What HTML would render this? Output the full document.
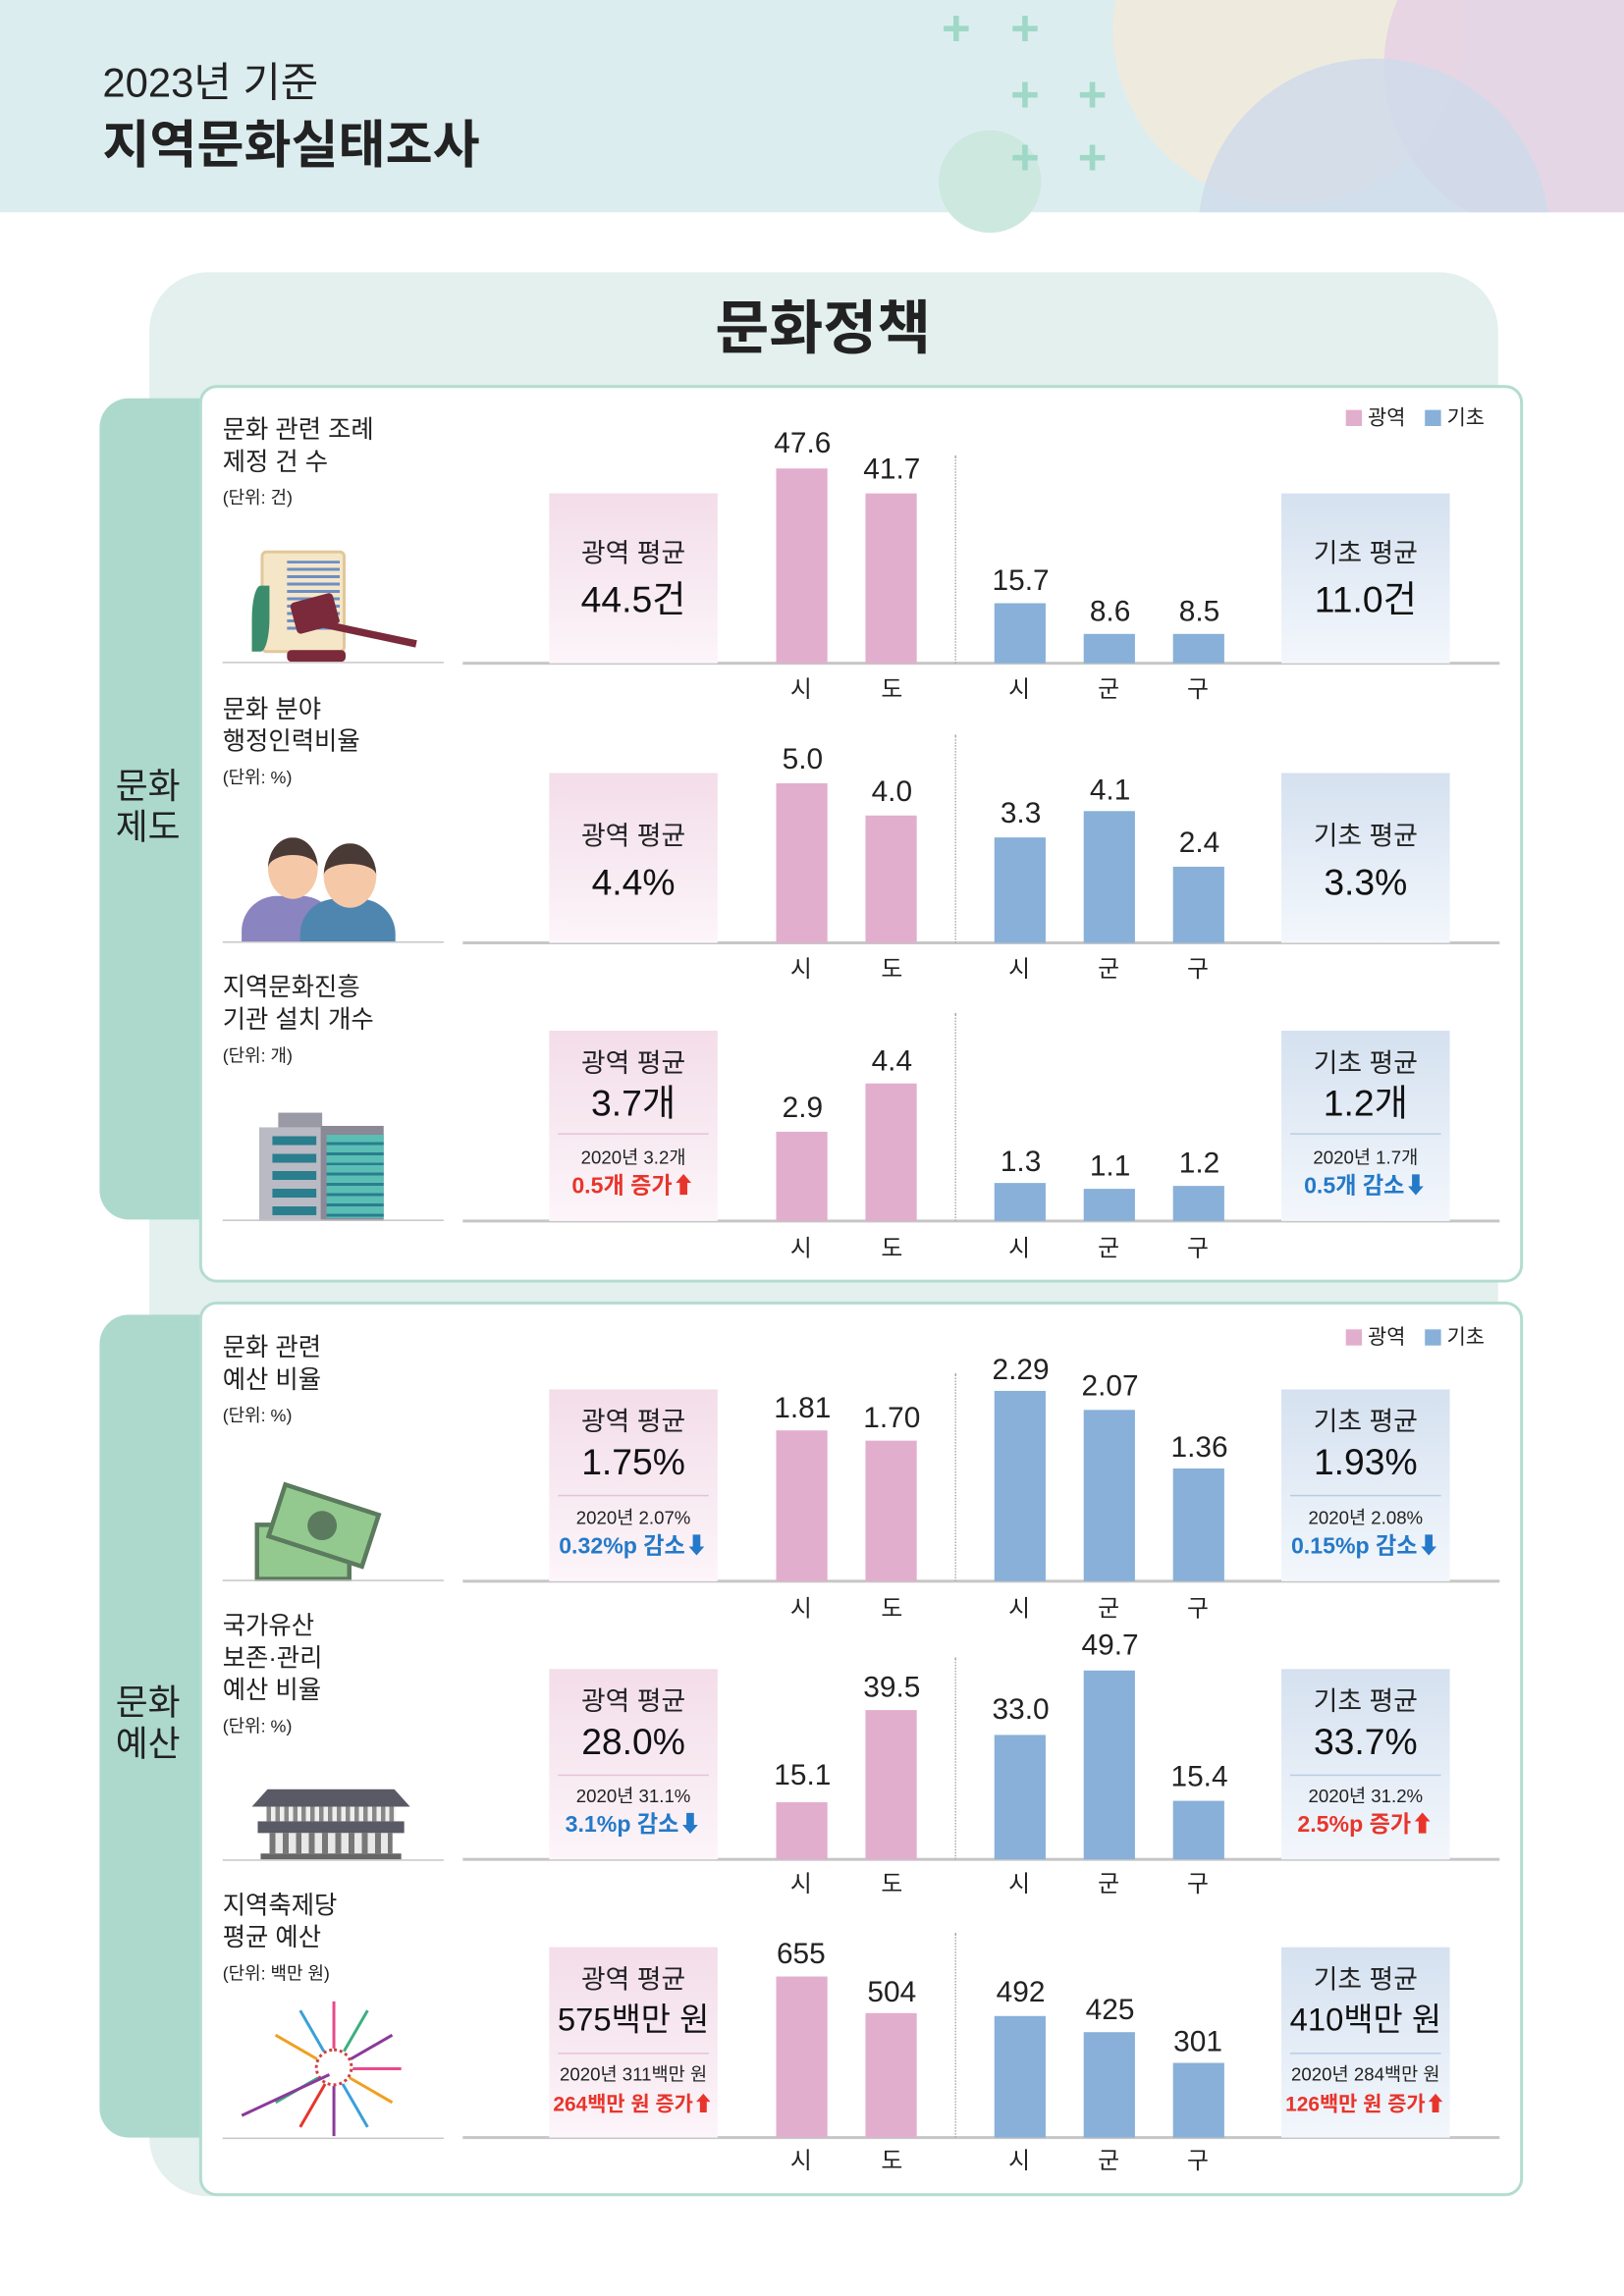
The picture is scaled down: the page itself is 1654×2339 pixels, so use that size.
<!DOCTYPE html>
<html><head><meta charset="utf-8">
<style>
*{margin:0;padding:0;box-sizing:border-box}
html,body{width:1654px;height:2339px;overflow:hidden;background:#fff}
#w{position:absolute;left:0;top:0;width:1109px;height:1568px;transform:scale(1.4915);transform-origin:0 0;font-family:"Liberation Sans","Noto Sans CJK KR",sans-serif;color:#222}
#w div{position:absolute}
.c{text-align:center;white-space:nowrap}
.pb{background:#e2aecd;width:35px}
.bb{background:#88b0d8;width:35px}
.v{width:80px;font-size:20px;line-height:22px;text-align:center}
.cat{width:40px;font-size:16px;line-height:18px;text-align:center}
.base{left:316px;width:708px;height:2px;background:#c6c6c6}
.lb{left:152px;width:151px;height:1px;background:#c6c6c6}
.dot{left:652px;width:0;border-left:1px dotted #aaa}
.pbox{left:375px;width:115px;background:linear-gradient(#f3dde9,#fcf5f9)}
.bbox{left:875px;width:115px;background:linear-gradient(#d5e1f0,#f3f7fc)}
.bt{left:0;width:115px;text-align:center;font-size:18px;line-height:20px;white-space:nowrap}
.bv{left:0;width:115px;text-align:center;font-size:25px;line-height:28px;color:#111;white-space:nowrap}
.bl{left:6px;width:103px;height:1px}
.bs{left:0;width:115px;text-align:center;font-size:12.5px;line-height:14px;white-space:nowrap}
.bc{left:0;width:115px;text-align:center;font-size:15.5px;line-height:18px;font-weight:bold;white-space:nowrap}
.red{color:#e8352b}.blu{color:#2479c9}
.lab{left:152px;font-size:17px;line-height:22px}
.unit{left:152px;font-size:12px;line-height:14px}
.plus{color:#9fd8c6;font-size:34px;font-weight:bold;line-height:30px}
.ray{left:228px;top:1412px;width:46px;height:2px;transform-origin:0 50%}
</style></head><body><div id="w">
<!-- header -->
<div style="left:0;top:0;width:1109px;height:145px;background:#dcedf0;overflow:hidden">
 <div style="left:760px;top:-100px;width:240px;height:240px;border-radius:50%;background:#efeadb;opacity:.9"></div>
 <div style="left:945px;top:-70px;width:230px;height:230px;border-radius:50%;background:#e6d3e4;opacity:.9"></div>
 <div style="left:818px;top:40px;width:240px;height:240px;border-radius:50%;background:#cfdbea;opacity:.85"></div>
</div>
<div style="left:641px;top:89px;width:70px;height:70px;border-radius:50%;background:#cde8df"></div>
<div class="plus" style="left:643px;top:5px">+</div><div class="plus" style="left:690px;top:5px">+</div>
<div class="plus" style="left:690px;top:50px">+</div><div class="plus" style="left:736px;top:50px">+</div>
<div class="plus" style="left:690px;top:93px">+</div><div class="plus" style="left:736px;top:93px">+</div>
<div style="left:70px;top:40px;font-size:28px;line-height:34px">2023년 기준</div>
<div style="left:70px;top:80px;font-size:35px;line-height:40px;font-weight:bold">지역문화실태조사</div>

<!-- big panel -->
<div style="left:102px;top:186px;width:921px;height:1314px;border-radius:40px;background:#e3f0ed"></div>
<div class="c" style="left:362px;top:202px;width:400px;font-size:40px;line-height:46px;font-weight:bold">문화정책</div>

<div style="left:68px;top:272px;width:90px;height:561px;border-radius:20px;background:#acd9cc"></div>
<div class="c" style="left:68px;top:524px;width:66px;font-size:24px;line-height:28px">문화<br>제도</div>
<div style="left:68px;top:898px;width:90px;height:562px;border-radius:20px;background:#acd9cc"></div>
<div class="c" style="left:68px;top:1150px;width:66px;font-size:24px;line-height:28px">문화<br>예산</div>

<div style="left:136px;top:263px;width:904px;height:613px;border:2px solid #b3dccf;border-radius:12px;background:#fff"></div>
<div style="left:136px;top:889px;width:904px;height:611px;border:2px solid #b3dccf;border-radius:12px;background:#fff"></div>

<!-- legends -->
<div style="left:919px;top:280px;width:11px;height:11px;background:#e2aecd"></div><div style="left:934px;top:277px;font-size:14px;line-height:17px">광역</div>
<div style="left:973px;top:280px;width:11px;height:11px;background:#88b0d8"></div><div style="left:988px;top:277px;font-size:14px;line-height:17px">기초</div>
<div style="left:919px;top:908px;width:11px;height:11px;background:#e2aecd"></div><div style="left:934px;top:905px;font-size:14px;line-height:17px">광역</div>
<div style="left:973px;top:908px;width:11px;height:11px;background:#88b0d8"></div><div style="left:988px;top:905px;font-size:14px;line-height:17px">기초</div>

<!-- ROW 1 B=453 -->
<div class="lab" style="top:283px">문화 관련 조례<br>제정 건 수</div>
<div class="unit" style="top:333px">(단위: 건)</div>
<div style="left:178px;top:376px;width:58px;height:70px;background:#f6e6c8;border:2px solid #e2c79a;border-radius:4px"></div>
<div style="left:196px;top:383px;width:36px;height:48px;background:repeating-linear-gradient(#6b8fc6 0 2px,transparent 2px 5px)"></div>
<div style="left:172px;top:400px;width:12px;height:45px;background:#3a8c6c;border-radius:50% 0"></div>
<div style="left:200px;top:408px;width:30px;height:22px;background:#7a2a3a;border-radius:3px;transform:rotate(-15deg)"></div>
<div style="left:215px;top:430px;width:70px;height:5px;background:#7a2a3a;transform:rotate(12deg)"></div>
<div style="left:196px;top:444px;width:40px;height:8px;background:#7a2a3a;border-radius:3px"></div>
<div class="lb" style="top:452px"></div>
<div class="base" style="top:452px"></div>
<div class="dot" style="top:311px;height:142px"></div>
<div class="pbox" style="top:337px;height:116px"><div class="bt" style="top:31px">광역 평균</div><div class="bv" style="top:59px">44.5건</div></div>
<div class="bbox" style="top:337px;height:116px"><div class="bt" style="top:31px">기초 평균</div><div class="bv" style="top:59px">11.0건</div></div>
<div class="pb" style="left:530px;top:320px;height:133px"></div><div class="v" style="left:508px;top:292px">47.6</div>
<div class="pb" style="left:591px;top:337px;height:116px"></div><div class="v" style="left:569px;top:310px">41.7</div>
<div class="bb" style="left:679px;top:412px;height:41px"></div><div class="v" style="left:657px;top:386px">15.7</div>
<div class="bb" style="left:740px;top:433px;height:20px"></div><div class="v" style="left:718px;top:407px">8.6</div>
<div class="bb" style="left:801px;top:433px;height:20px"></div><div class="v" style="left:779px;top:407px">8.5</div>
<div class="cat" style="left:527px;top:463px">시</div><div class="cat" style="left:589px;top:463px">도</div><div class="cat" style="left:676px;top:463px">시</div><div class="cat" style="left:737px;top:463px">군</div><div class="cat" style="left:798px;top:463px">구</div>

<!-- ROW 2 B=644 -->
<div class="lab" style="top:474px">문화 분야<br>행정인력비율</div>
<div class="unit" style="top:524px">(단위: %)</div>
<div style="left:165px;top:612px;width:65px;height:32px;background:#8a84c0;border-radius:24px 24px 0 0"></div>
<div style="left:205px;top:614px;width:65px;height:30px;background:#4f86b0;border-radius:24px 24px 0 0"></div>
<div style="left:183px;top:572px;width:34px;height:42px;background:#f5c9a8;border-radius:50%;border-top:12px solid #4a3a36"></div>
<div style="left:221px;top:576px;width:36px;height:44px;background:#f5c9a8;border-radius:50%;border-top:14px solid #4a3a36"></div>
<div class="lb" style="top:643px"></div>
<div class="base" style="top:643px"></div>
<div class="dot" style="top:502px;height:142px"></div>
<div class="pbox" style="top:528px;height:116px"><div class="bt" style="top:33px">광역 평균</div><div class="bv" style="top:61px">4.4%</div></div>
<div class="bbox" style="top:528px;height:116px"><div class="bt" style="top:33px">기초 평균</div><div class="bv" style="top:61px">3.3%</div></div>
<div class="pb" style="left:530px;top:535px;height:109px"></div><div class="v" style="left:508px;top:508px">5.0</div>
<div class="pb" style="left:591px;top:557px;height:87px"></div><div class="v" style="left:569px;top:530px">4.0</div>
<div class="bb" style="left:679px;top:572px;height:72px"></div><div class="v" style="left:657px;top:545px">3.3</div>
<div class="bb" style="left:740px;top:554px;height:90px"></div><div class="v" style="left:718px;top:529px">4.1</div>
<div class="bb" style="left:801px;top:592px;height:52px"></div><div class="v" style="left:779px;top:565px">2.4</div>
<div class="cat" style="left:527px;top:654px">시</div><div class="cat" style="left:589px;top:654px">도</div><div class="cat" style="left:676px;top:654px">시</div><div class="cat" style="left:737px;top:654px">군</div><div class="cat" style="left:798px;top:654px">구</div>

<!-- ROW 3 B=834 -->
<div class="lab" style="top:664px">지역문화진흥<br>기관 설치 개수</div>
<div class="unit" style="top:714px">(단위: 개)</div>
<div style="left:177px;top:770px;width:62px;height:64px;background:#b9bac4"></div>
<div style="left:190px;top:760px;width:30px;height:10px;background:#9a99a6"></div>
<div style="left:186px;top:776px;width:30px;height:54px;background:repeating-linear-gradient(#2a7e8e 0 6px,#fff0 6px 12px)"></div>
<div style="left:219px;top:769px;width:43px;height:65px;background:#8c8997"></div>
<div style="left:223px;top:775px;width:39px;height:57px;background:repeating-linear-gradient(#5bbeb5 0 5px,#2a7e8e 5px 7px)"></div>
<div class="lb" style="top:833px"></div>
<div class="base" style="top:833px"></div>
<div class="dot" style="top:692px;height:142px"></div>
<div class="pbox" style="top:704px;height:130px"><div class="bt" style="top:12px">광역 평균</div><div class="bv" style="top:36px">3.7개</div><div class="bl" style="top:70px;background:#e6c3d6"></div><div class="bs" style="top:80px">2020년 3.2개</div><div class="bc red" style="top:98px">0.5개 증가⬆</div></div>
<div class="bbox" style="top:704px;height:130px"><div class="bt" style="top:12px">기초 평균</div><div class="bv" style="top:36px">1.2개</div><div class="bl" style="top:70px;background:#b8cce4"></div><div class="bs" style="top:80px">2020년 1.7개</div><div class="bc blu" style="top:98px">0.5개 감소⬇</div></div>
<div class="pb" style="left:530px;top:773px;height:61px"></div><div class="v" style="left:508px;top:746px">2.9</div>
<div class="pb" style="left:591px;top:740px;height:94px"></div><div class="v" style="left:569px;top:714px">4.4</div>
<div class="bb" style="left:679px;top:808px;height:26px"></div><div class="v" style="left:657px;top:783px">1.3</div>
<div class="bb" style="left:740px;top:812px;height:22px"></div><div class="v" style="left:718px;top:786px">1.1</div>
<div class="bb" style="left:801px;top:810px;height:24px"></div><div class="v" style="left:779px;top:784px">1.2</div>
<div class="cat" style="left:527px;top:845px">시</div><div class="cat" style="left:589px;top:845px">도</div><div class="cat" style="left:676px;top:845px">시</div><div class="cat" style="left:737px;top:845px">군</div><div class="cat" style="left:798px;top:845px">구</div>

<!-- ROW 4 B=1080 -->
<div class="lab" style="top:910px">문화 관련<br>예산 비율</div>
<div class="unit" style="top:960px">(단위: %)</div>
<div style="left:174px;top:1040px;width:66px;height:40px;background:#93c98e;border:3px solid #5b7a5e"></div>
<div style="left:186px;top:1022px;width:70px;height:40px;background:#93c98e;border:3px solid #5b7a5e;transform:rotate(18deg)"></div>
<div style="left:210px;top:1032px;width:20px;height:20px;border-radius:50%;background:#5b7a5e;transform:rotate(18deg)"></div>
<div class="lb" style="top:1079px"></div>
<div class="base" style="top:1079px"></div>
<div class="dot" style="top:938px;height:142px"></div>
<div class="pbox" style="top:949px;height:131px"><div class="bt" style="top:12px">광역 평균</div><div class="bv" style="top:36px">1.75%</div><div class="bl" style="top:72px;background:#e6c3d6"></div><div class="bs" style="top:81px">2020년 2.07%</div><div class="bc blu" style="top:99px">0.32%p 감소⬇</div></div>
<div class="bbox" style="top:949px;height:131px"><div class="bt" style="top:12px">기초 평균</div><div class="bv" style="top:36px">1.93%</div><div class="bl" style="top:72px;background:#b8cce4"></div><div class="bs" style="top:81px">2020년 2.08%</div><div class="bc blu" style="top:99px">0.15%p 감소⬇</div></div>
<div class="pb" style="left:530px;top:977px;height:103px"></div><div class="v" style="left:508px;top:951px">1.81</div>
<div class="pb" style="left:591px;top:984px;height:96px"></div><div class="v" style="left:569px;top:958px">1.70</div>
<div class="bb" style="left:679px;top:950px;height:130px"></div><div class="v" style="left:657px;top:925px">2.29</div>
<div class="bb" style="left:740px;top:963px;height:117px"></div><div class="v" style="left:718px;top:936px">2.07</div>
<div class="bb" style="left:801px;top:1003px;height:77px"></div><div class="v" style="left:779px;top:978px">1.36</div>
<div class="cat" style="left:527px;top:1091px">시</div><div class="cat" style="left:589px;top:1091px">도</div><div class="cat" style="left:676px;top:1091px">시</div><div class="cat" style="left:737px;top:1091px">군</div><div class="cat" style="left:798px;top:1091px">구</div>

<!-- ROW 5 B=1270 -->
<div class="lab" style="top:1100px">국가유산<br>보존·관리<br>예산 비율</div>
<div class="unit" style="top:1172px">(단위: %)</div>
<div style="left:172px;top:1222px;width:108px;height:12px;background:#5a5a66;clip-path:polygon(10% 0,90% 0,100% 100%,0 100%)"></div>
<div style="left:182px;top:1234px;width:88px;height:10px;background:repeating-linear-gradient(90deg,#888 0 3px,#eee 3px 6px)"></div>
<div style="left:176px;top:1244px;width:100px;height:8px;background:#5a5a66"></div>
<div style="left:184px;top:1252px;width:84px;height:14px;background:repeating-linear-gradient(90deg,#777 0 4px,#e8e8e8 4px 9px)"></div>
<div style="left:178px;top:1266px;width:96px;height:4px;background:#666"></div>
<div class="lb" style="top:1270px"></div>
<div class="base" style="top:1269px"></div>
<div class="dot" style="top:1132px;height:138px"></div>
<div class="pbox" style="top:1140px;height:130px"><div class="bt" style="top:12px">광역 평균</div><div class="bv" style="top:36px">28.0%</div><div class="bl" style="top:72px;background:#e6c3d6"></div><div class="bs" style="top:80px">2020년 31.1%</div><div class="bc blu" style="top:98px">3.1%p 감소⬇</div></div>
<div class="bbox" style="top:1140px;height:130px"><div class="bt" style="top:12px">기초 평균</div><div class="bv" style="top:36px">33.7%</div><div class="bl" style="top:72px;background:#b8cce4"></div><div class="bs" style="top:80px">2020년 31.2%</div><div class="bc red" style="top:98px">2.5%p 증가⬆</div></div>
<div class="pb" style="left:530px;top:1231px;height:39px"></div><div class="v" style="left:508px;top:1202px">15.1</div>
<div class="pb" style="left:591px;top:1168px;height:102px"></div><div class="v" style="left:569px;top:1142px">39.5</div>
<div class="bb" style="left:679px;top:1185px;height:85px"></div><div class="v" style="left:657px;top:1157px">33.0</div>
<div class="bb" style="left:740px;top:1141px;height:129px"></div><div class="v" style="left:718px;top:1113px">49.7</div>
<div class="bb" style="left:801px;top:1230px;height:40px"></div><div class="v" style="left:779px;top:1203px">15.4</div>
<div class="cat" style="left:527px;top:1279px">시</div><div class="cat" style="left:589px;top:1279px">도</div><div class="cat" style="left:676px;top:1279px">시</div><div class="cat" style="left:737px;top:1279px">군</div><div class="cat" style="left:798px;top:1279px">구</div>

<!-- ROW 6 B=1460 -->
<div class="lab" style="top:1291px">지역축제당<br>평균 예산</div>
<div class="unit" style="top:1341px">(단위: 백만 원)</div>
<div class="ray" style="background:#e84a8a;transform:rotate(0deg)"></div>
<div class="ray" style="background:#f0a020;transform:rotate(30deg)"></div>
<div class="ray" style="background:#3aa0d8;transform:rotate(60deg)"></div>
<div class="ray" style="background:#8a3a9a;transform:rotate(90deg)"></div>
<div class="ray" style="background:#e8352b;transform:rotate(120deg)"></div>
<div class="ray" style="background:#3ab080;transform:rotate(150deg)"></div>
<div class="ray" style="background:#f0a020;transform:rotate(210deg)"></div>
<div class="ray" style="background:#3aa0d8;transform:rotate(240deg)"></div>
<div class="ray" style="background:#e84a8a;transform:rotate(270deg)"></div>
<div class="ray" style="background:#3ab080;transform:rotate(300deg)"></div>
<div class="ray" style="background:#8a3a9a;transform:rotate(330deg)"></div>
<div style="left:215px;top:1399px;width:26px;height:26px;border-radius:50%;background:#fff;border:2px dotted #c44"></div>
<div style="left:162px;top:1430px;width:66px;height:2px;background:#8a3a9a;transform:rotate(-25deg)"></div>
<div class="lb" style="top:1460px"></div>
<div class="base" style="top:1459px"></div>
<div class="dot" style="top:1320px;height:140px"></div>
<div class="pbox" style="top:1330px;height:130px"><div class="bt" style="top:12px">광역 평균</div><div class="bv" style="top:36px;font-size:22px">575백만 원</div><div class="bl" style="top:72px;background:#e6c3d6"></div><div class="bs" style="top:80px">2020년 311백만 원</div><div class="bc red" style="top:98px;font-size:14px">264백만 원 증가⬆</div></div>
<div class="bbox" style="top:1330px;height:130px"><div class="bt" style="top:12px">기초 평균</div><div class="bv" style="top:36px;font-size:22px">410백만 원</div><div class="bl" style="top:72px;background:#b8cce4"></div><div class="bs" style="top:80px">2020년 284백만 원</div><div class="bc red" style="top:98px;font-size:14px">126백만 원 증가⬆</div></div>
<div class="pb" style="left:530px;top:1350px;height:110px"></div><div class="v" style="left:507px;top:1324px">655</div>
<div class="pb" style="left:591px;top:1375px;height:85px"></div><div class="v" style="left:569px;top:1350px">504</div>
<div class="bb" style="left:679px;top:1377px;height:83px"></div><div class="v" style="left:657px;top:1350px">492</div>
<div class="bb" style="left:740px;top:1388px;height:72px"></div><div class="v" style="left:718px;top:1362px">425</div>
<div class="bb" style="left:801px;top:1409px;height:51px"></div><div class="v" style="left:778px;top:1384px">301</div>
<div class="cat" style="left:527px;top:1468px">시</div><div class="cat" style="left:589px;top:1468px">도</div><div class="cat" style="left:676px;top:1468px">시</div><div class="cat" style="left:737px;top:1468px">군</div><div class="cat" style="left:798px;top:1468px">구</div>
</div></body></html>
